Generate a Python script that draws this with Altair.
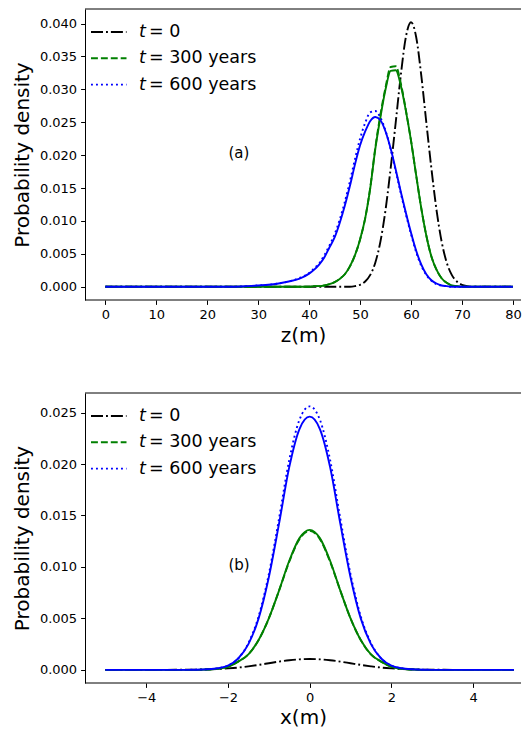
import altair as alt
import pandas as pd

# ---------------- panel (a): z grid and densities ----------------
Z = [0, 10, 20, 25, 28, 30, 32, 34, 36, 38,
     40, 41, 42, 43, 44, 45, 46, 47, 48, 49, 50, 51, 52, 53, 54, 55, 56,
     57, 58, 59, 60, 61, 62, 63, 64, 65, 66, 67, 68, 69, 70, 71, 72, 75, 80]

A_T0 = [0, 0, 0, 0, 0, 0, 0, 0, 0, 0,
        0, 0, 0, 0, 0, 0, 0, 0, 0.0000, 0.0001, 0.0003, 0.0008, 0.0018, 0.0037, 0.0069, 0.0117, 0.0180,
        0.0250, 0.0322, 0.0380, 0.0402, 0.0380, 0.0322, 0.0250, 0.0180, 0.0117, 0.0069, 0.0037, 0.0018, 0.0008, 0.0003, 0.0001, 0, 0, 0]

A_T300_SOLID = [0, 0, 0, 0, 0, 0, 0, 0, 0, 0,
                0.0000, 0.0001, 0.0001, 0.0002, 0.0004, 0.0007, 0.0012, 0.0019, 0.0031, 0.0048, 0.0072, 0.0104, 0.0150, 0.0210, 0.0258, 0.0300, 0.0328,
                0.0329, 0.0306, 0.0267, 0.0222, 0.0170, 0.0120, 0.0078, 0.0046, 0.0026, 0.0013, 0.0006, 0.0002, 0.0001, 0, 0, 0, 0, 0]

A_T300_DASHED = [0, 0, 0, 0, 0, 0, 0, 0, 0, 0,
                 0.0000, 0.0001, 0.0001, 0.0002, 0.0004, 0.0007, 0.0012, 0.0019, 0.0031, 0.0048, 0.0072, 0.0104, 0.0151, 0.0212, 0.0262, 0.0303, 0.0334,
                 0.0335, 0.0309, 0.0268, 0.0222, 0.0170, 0.0120, 0.0078, 0.0046, 0.0026, 0.0013, 0.0006, 0.0002, 0.0001, 0, 0, 0, 0, 0]

A_T600_SOLID = [0, 0, 0, 0.0000, 0.0001, 0.0002, 0.0003, 0.0005, 0.0008, 0.0012,
                0.0020, 0.0026, 0.0034, 0.0045, 0.0060, 0.0075, 0.0097, 0.0123, 0.0153, 0.0186, 0.0215, 0.0236, 0.0252, 0.0258, 0.0253, 0.0236, 0.0210,
                0.0178, 0.0144, 0.0112, 0.0082, 0.0055, 0.0034, 0.0019, 0.0010, 0.0005, 0.0002, 0.0001, 0, 0, 0, 0, 0, 0, 0]

A_T600_DOTTED = [0, 0, 0, 0.0000, 0.0001, 0.0002, 0.0003, 0.0005, 0.0008, 0.0013,
                 0.0021, 0.0028, 0.0036, 0.0048, 0.0063, 0.0080, 0.0102, 0.0129, 0.0160, 0.0194, 0.0225, 0.0249, 0.0265, 0.0267, 0.0257, 0.0237, 0.0209,
                 0.0176, 0.0142, 0.0110, 0.0080, 0.0053, 0.0032, 0.0018, 0.0009, 0.0004, 0.0002, 0.0001, 0, 0, 0, 0, 0, 0, 0]

# ---------------- panel (b): x grid and densities ----------------
X = [-5, -4, -3.5, -3, -2.75, -2.5, -2.25, -2, -1.75, -1.5, -1.25, -1, -0.75, -0.5, -0.25,
     0, 0.25, 0.5, 0.75, 1, 1.25, 1.5, 1.75, 2, 2.25, 2.5, 2.75, 3, 3.5, 4, 5]

B_T0 = [0, 0, 0, 0.00001, 0.00002, 0.00005, 0.00008, 0.00014, 0.00022, 0.00034, 0.00048, 0.00064, 0.00080, 0.00093, 0.00102,
        0.00105, 0.00102, 0.00093, 0.00080, 0.00064, 0.00048, 0.00034, 0.00022, 0.00014, 0.00008, 0.00005, 0.00002, 0.00001, 0, 0, 0]

B_T300_SOLID = [0, 0, 0, 0, 0, 0.00003, 0.0001, 0.0003, 0.0008, 0.0015, 0.0029, 0.0050, 0.0077, 0.0106, 0.0128,
                0.0136, 0.0128, 0.0106, 0.0077, 0.0050, 0.0029, 0.0015, 0.0008, 0.0003, 0.0001, 0.00003, 0, 0, 0, 0, 0]

B_T300_DASHED = [0, 0, 0, 0, 0, 0.00003, 0.0001, 0.0003, 0.0008, 0.0015, 0.0029, 0.0050, 0.0077, 0.0105, 0.0127,
                 0.0135, 0.0127, 0.0105, 0.0077, 0.0050, 0.0029, 0.0015, 0.0008, 0.0003, 0.0001, 0.00003, 0, 0, 0, 0, 0]

B_T600_SOLID = [0, 0, 0, 0, 0.00001, 0.00005, 0.00015, 0.0004, 0.0011, 0.0025, 0.0050, 0.0090, 0.0142, 0.0197, 0.0234,
                0.0246, 0.0234, 0.0197, 0.0142, 0.0090, 0.0050, 0.0025, 0.0011, 0.0004, 0.00015, 0.00005, 0.00001, 0, 0, 0, 0]

B_T600_DOTTED = [0, 0, 0, 0, 0.00001, 0.00005, 0.00015, 0.0004, 0.0011, 0.0026, 0.0052, 0.0093, 0.0147, 0.0204, 0.0243,
                 0.0256, 0.0243, 0.0204, 0.0147, 0.0093, 0.0052, 0.0026, 0.0011, 0.0004, 0.00015, 0.00005, 0.00001, 0, 0, 0, 0]

LEGEND_REST = ["= 0", "= 300 years", "= 600 years"]
A_TICKS = [0, 10, 20, 30, 40, 50, 60, 70, 80]
B_TICKS = [-4, -2, 0, 2, 4]
A_YTICKS = [0, 0.005, 0.01, 0.015, 0.02, 0.025, 0.03, 0.035, 0.04]
B_YTICKS = [0, 0.005, 0.01, 0.015, 0.02, 0.025]
A_LABEL = {"x": [26.2], "y": [0.0204], "t": ["(a)"]}
B_LABEL = {"x": [-1.73], "y": [0.0102], "t": ["(b)"]}

FONT = "DejaVu Sans"
BLACK, GREEN, BLUE = "#000000", "#008000", "#0000ff"
LW = 1.9
DASHDOT = [12, 3, 1.9, 3]
DASHED = [6.9, 3]
DOTTED = [1.9, 3.1]
W = 436


def panel(xs, series, xdomain, xticks, ydomain, yticks, xtitle, label, h, tpad):
    xenc = alt.X("x:Q", scale=alt.Scale(domain=xdomain, nice=False, zero=False),
                 axis=alt.Axis(values=xticks, format="d", title=xtitle, domain=False, titlePadding=tpad))
    yenc = alt.Y("y:Q", scale=alt.Scale(domain=ydomain, nice=False, zero=False),
                 axis=alt.Axis(values=yticks, format=".3f", title="Probability density",
                               domain=True, domainColor="black", domainWidth=1))
    layers = []
    for vals, color, dash in series:
        df = pd.DataFrame({"x": xs, "y": vals})
        kw = dict(color=color, strokeWidth=LW, interpolate="monotone", clip=True)
        if dash is not None:
            kw["strokeDash"] = dash
        layers.append(alt.Chart(df).mark_line(**kw).encode(x=xenc, y=yenc))
    # frame: top and bottom edges (right edge lies beyond the page in the reference)
    one = pd.DataFrame({"k": [0]})
    for ypix in (0, h):
        layers.append(alt.Chart(one).mark_rule(color="black", strokeWidth=1).encode(
            x=alt.value(0), x2=alt.value(W), y=alt.value(ypix)))
    # legend (matplotlib style, upper left)
    leg = [(BLACK, DASHDOT), (GREEN, DASHED), (BLUE, DOTTED)]
    for i, ((color, dash), rest) in enumerate(zip(leg, LEGEND_REST)):
        ypos = 23 + 26.3 * i
        d = pd.DataFrame({"rest": [rest]})
        layers.append(alt.Chart(d).mark_rule(color=color, strokeDash=dash, strokeWidth=LW).encode(
            x=alt.value(6), x2=alt.value(41.5), y=alt.value(ypos)))
        layers.append(alt.Chart(d).mark_text(font=FONT, fontSize=17.5, fontStyle="italic", align="left",
                                             baseline="middle", color="black").encode(
            x=alt.value(54), y=alt.value(ypos), text=alt.value("t")))
        layers.append(alt.Chart(d).mark_text(font=FONT, fontSize=17.5, align="left",
                                             baseline="middle", color="black").encode(
            x=alt.value(64), y=alt.value(ypos), text="rest:N"))
    ld = pd.DataFrame(label)
    layers.append(alt.Chart(ld).mark_text(font=FONT, fontSize=15, align="center", baseline="middle",
                                          color="black").encode(x=xenc, y=yenc, text="t:N"))
    return alt.layer(*layers).properties(width=W, height=h)


top = panel(Z,
            [(A_T0, BLACK, DASHDOT), (A_T300_DASHED, GREEN, DASHED), (A_T600_DOTTED, BLUE, DOTTED),
             (A_T300_SOLID, GREEN, None), (A_T600_SOLID, BLUE, None)],
            [-4, 81.59], A_TICKS, [-0.00201, 0.04221], A_YTICKS, "z(m)", A_LABEL, 291, 4)

bottom = panel(X,
               [(B_T0, BLACK, DASHDOT), (B_T300_DASHED, GREEN, DASHED), (B_T600_DOTTED, BLUE, DOTTED),
                (B_T300_SOLID, GREEN, None), (B_T600_SOLID, BLUE, None)],
               [-5.5, 5.173], B_TICKS, [-0.00128, 0.0269], B_YTICKS, "x(m)", B_LABEL, 290, 3)

chart = alt.vconcat(top, bottom, spacing=46).properties(
    padding={"left": 4, "top": 0, "right": 0, "bottom": 0}
).configure_view(stroke=None).configure_axis(
    grid=False, tickColor="black", tickSize=4.4, tickWidth=1,
    labelFont=FONT, labelFontSize=13, labelColor="black", labelPadding=4,
    titleFont=FONT, titleFontSize=20, titleFontWeight="normal", titleColor="black",
    labelFlush=False
).configure_axisY(titlePadding=7)

chart.save("out.html", embed_options={"renderer": "svg", "actions": False})
